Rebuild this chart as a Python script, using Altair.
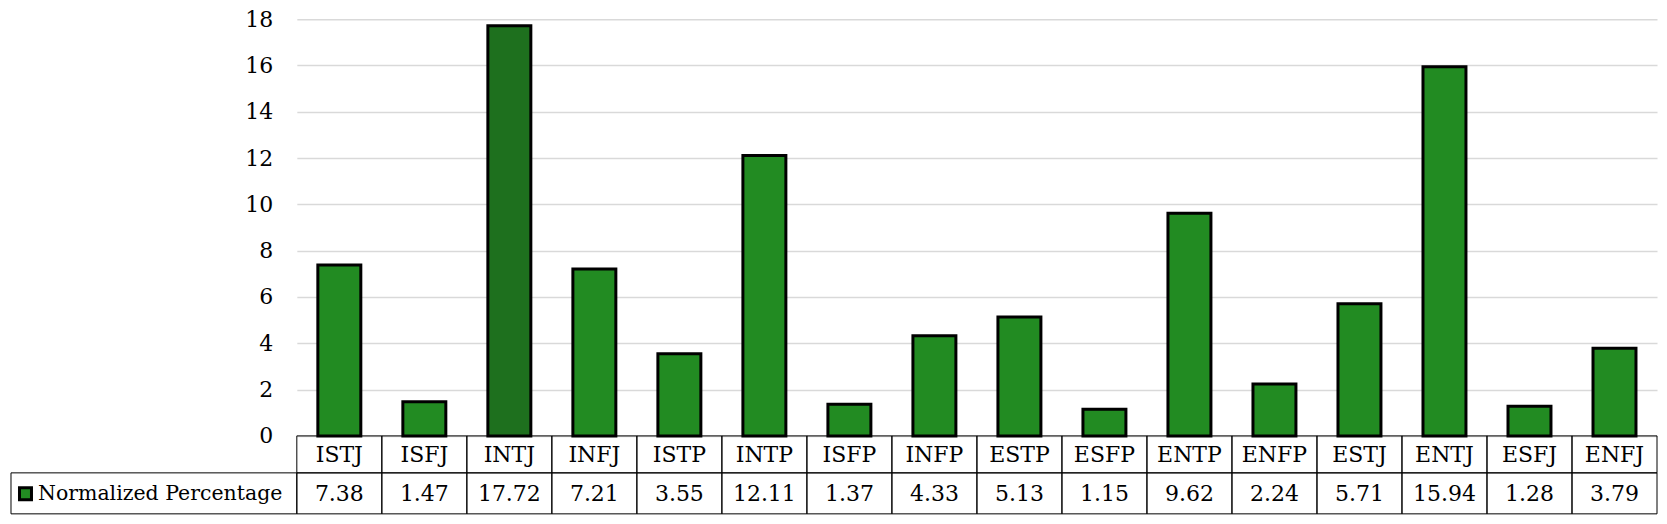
import altair as alt
import pandas as pd

# ---- data ----
types = ["ISTJ", "ISFJ", "INTJ", "INFJ", "ISTP", "INTP", "ISFP", "INFP",
         "ESTP", "ESFP", "ENTP", "ENFP", "ESTJ", "ENTJ", "ESFJ", "ENFJ"]
values = [7.38, 1.47, 17.72, 7.21, 3.55, 12.11, 1.37, 4.33,
          5.13, 1.15, 9.62, 2.24, 5.71, 15.94, 1.28, 3.79]
highlighted = ["INTJ"]
series_name = "Normalized Percentage"
y_ticks = [0, 2, 4, 6, 8, 10, 12, 14, 16, 18]

df = pd.DataFrame({"type": types, "value": values})
df["label"] = [f"{v:.2f}" for v in values]
df["shade"] = ["dark" if t in highlighted else "normal" for t in types]
legend_df = pd.DataFrame({"name": [series_name]})

# ---- layout / style ----
W, H = 1361, 417
R1 = 37      # category row height
R2 = 41      # value row height
FONT = "DejaVu Serif"
FS = 22
FS_LABEL = 20.5
GREEN = "#228B22"
DARK = "#1E701E"

x = alt.X("type:N", sort=types, axis=None,
          scale=alt.Scale(paddingInner=0, paddingOuter=0))

bars = alt.Chart(df).mark_bar(width=43, stroke="black", strokeWidth=3).encode(
    x=x,
    y=alt.Y("value:Q",
            scale=alt.Scale(domain=[0, 18], nice=False),
            axis=alt.Axis(values=y_ticks, title=None, domain=False, ticks=False,
                          labelPadding=24, labelFont=FONT, labelFontSize=FS,
                          labelColor="black", grid=True, gridColor="#d9d9d9",
                          gridWidth=1.5)),
    color=alt.Color("shade:N",
                    scale=alt.Scale(domain=["normal", "dark"], range=[GREEN, DARK]),
                    legend=None),
)

cell_style = dict(fillOpacity=0, stroke="black", strokeWidth=1)

row1_cells = alt.Chart(df).mark_rect(**cell_style).encode(
    x=x, y=alt.value(H), y2=alt.value(H + R1))
row2_cells = alt.Chart(df).mark_rect(**cell_style).encode(
    x=x, y=alt.value(H + R1), y2=alt.value(H + R1 + R2))

row1_text = alt.Chart(df).mark_text(font=FONT, fontSize=FS, baseline="middle",
                                    color="black").encode(
    x=x, y=alt.value(H + R1 / 2 + 1), text="type:N")
row2_text = alt.Chart(df).mark_text(font=FONT, fontSize=FS, baseline="middle",
                                    color="black").encode(
    x=x, y=alt.value(H + R1 + R2 / 2 + 1), text="label:N")

label_cell = alt.Chart(legend_df).mark_rect(**cell_style).encode(
    x=alt.value(-286), x2=alt.value(0),
    y=alt.value(H + R1), y2=alt.value(H + R1 + R2))
swatch = alt.Chart(legend_df).mark_rect(fill=GREEN, stroke="black", strokeWidth=3).encode(
    x=alt.value(-277.5), x2=alt.value(-265.5),
    y=alt.value(H + R1 + 15), y2=alt.value(H + R1 + 27))
label_text = alt.Chart(legend_df).mark_text(font=FONT, fontSize=FS_LABEL, baseline="middle",
                                            align="left", color="black").encode(
    x=alt.value(-259), y=alt.value(H + R1 + R2 / 2 + 1), text="name:N")

chart = alt.layer(
    bars, row1_cells, row2_cells, row1_text, row2_text,
    label_cell, swatch, label_text
).properties(
    width=W, height=H,
    padding={"left": 289, "top": 11, "right": 2, "bottom": 85},
    autosize=alt.AutoSizeParams(type="none"),
    background="white",
).configure_view(stroke=None)

chart.save("out.html", embed_options={"renderer": "svg", "actions": False})
